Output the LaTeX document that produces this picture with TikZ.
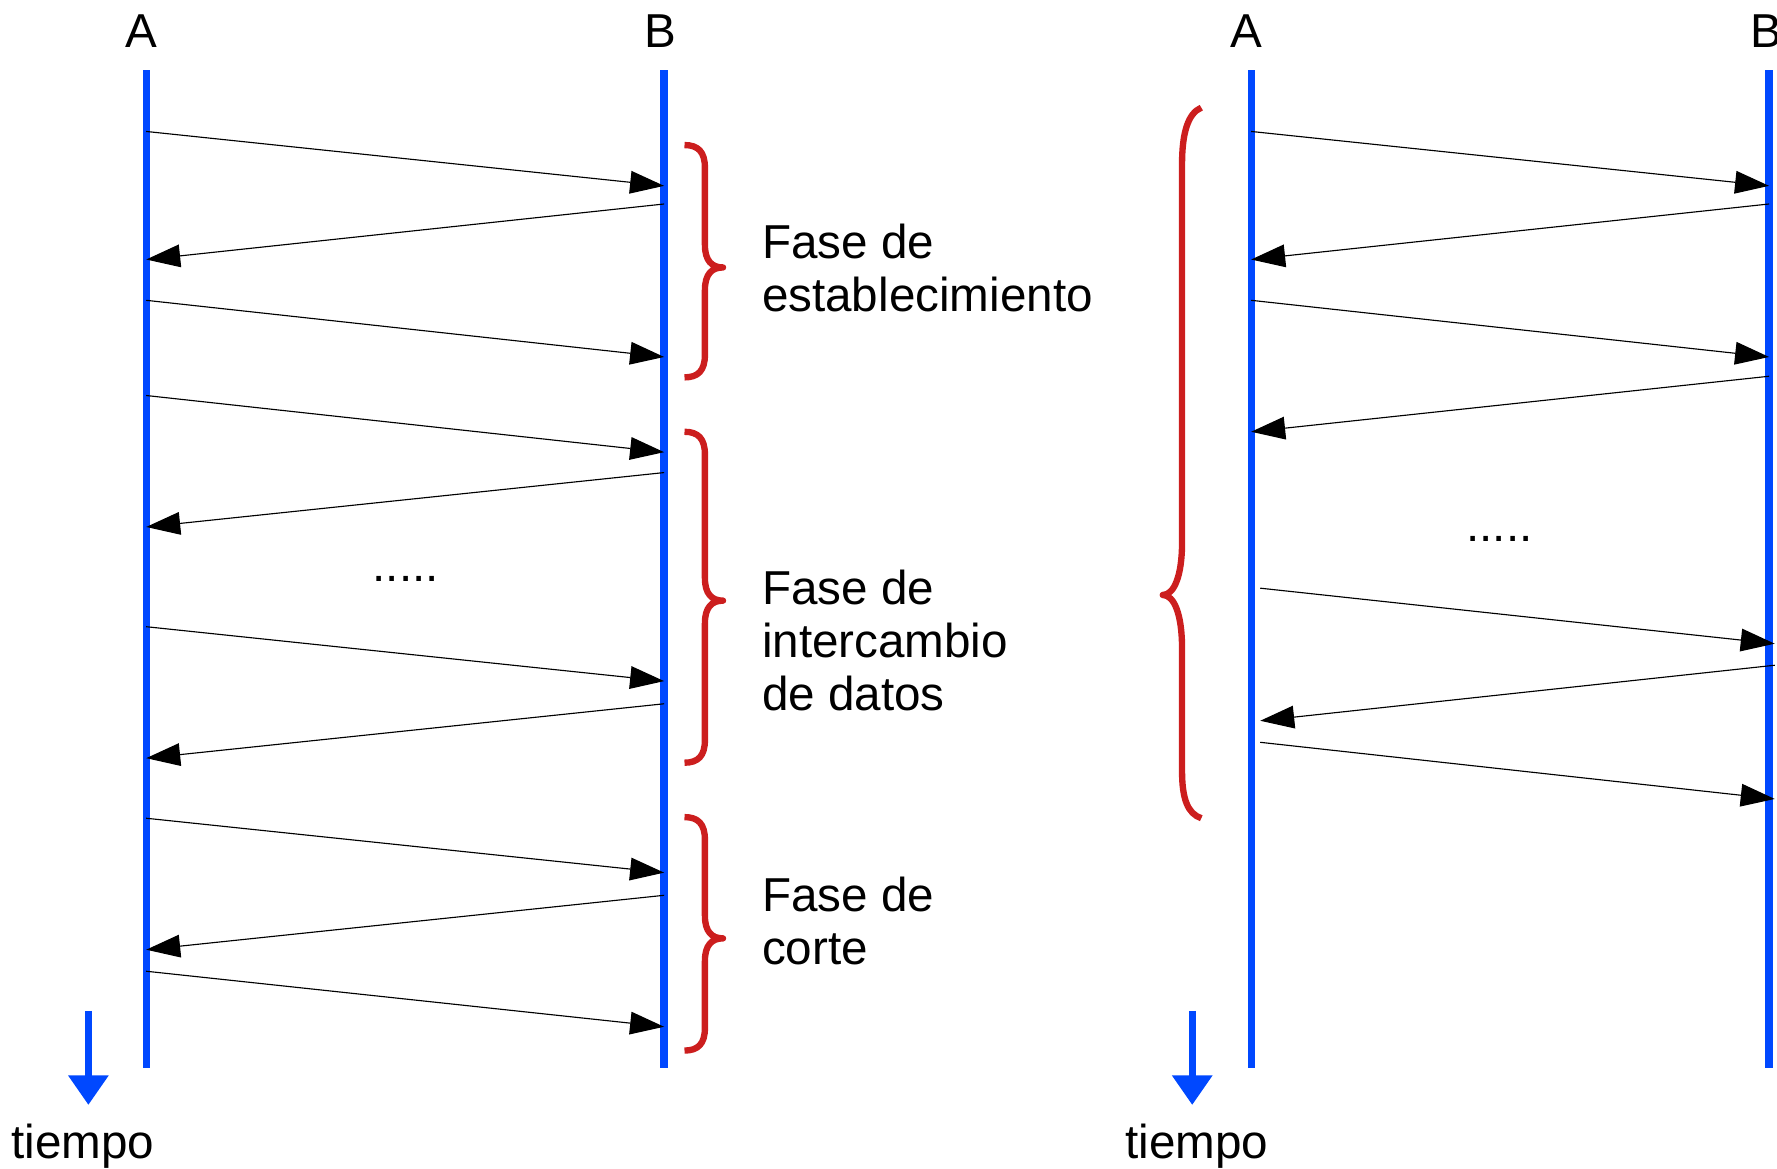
\documentclass[tikz,border=0pt]{standalone}
\usepackage{fontspec}
\setmainfont{Liberation Sans}
\usetikzlibrary{arrows.meta}
\definecolor{lblue}{RGB}{0,72,255}
\definecolor{bred}{RGB}{204,30,30}
\begin{document}
\begin{tikzpicture}[x=0.5pt,y=-0.5pt,
  lifeline/.style={draw=lblue, line width=3.2pt},
  msg/.style={draw=black, line width=0.5pt, -{Triangle[length=15pt,width=10pt]}},
  bracepath/.style={draw=bred, line width=2.8pt, line join=round},
  timearrow/.style={draw=lblue, line width=3.2pt, -{Triangle[length=13pt,width=17pt]}},
  lbl/.style={font=\fontsize{21}{23.5}\selectfont, inner sep=0pt, align=left},
]
\useasboundingbox (0,0) rectangle (1568,1031);

% ---------- left diagram ----------
\node[lbl, anchor=base] (LA) at (125,42) {A};
\node[lbl, anchor=base] (LB) at (583,42) {B};
\coordinate (lat) at (129,62);  \coordinate (lab) at (129,942);
\coordinate (lbt) at (586,62);  \coordinate (lbb) at (586,942);
\draw[lifeline] (lat) -- (lab);
\draw[lifeline] (lbt) -- (lbb);

\coordinate (a1) at (129,116); \coordinate (b1) at (586,164);
\coordinate (b2) at (586,180); \coordinate (a2) at (129,229);
\coordinate (a3) at (129,265); \coordinate (b3) at (586,315);
\coordinate (a4) at (129,349); \coordinate (b4) at (586,399);
\coordinate (b5) at (586,417); \coordinate (a5) at (129,465);
\coordinate (a6) at (129,553); \coordinate (b6) at (586,601);
\coordinate (b7) at (586,621); \coordinate (a7) at (129,669);
\coordinate (a8) at (129,722); \coordinate (b8) at (586,770);
\coordinate (b9) at (586,790); \coordinate (a9) at (129,838);
\coordinate (a10) at (129,857); \coordinate (b10) at (586,906);
\draw[msg] (a1) -- (b1);
\draw[msg] (b2) -- (a2);
\draw[msg] (a3) -- (b3);
\draw[msg] (a4) -- (b4);
\draw[msg] (b5) -- (a5);
\draw[msg] (a6) -- (b6);
\draw[msg] (b7) -- (a7);
\draw[msg] (a8) -- (b8);
\draw[msg] (b9) -- (a9);
\draw[msg] (a10) -- (b10);

\node[lbl, anchor=base] (ldots) at (358,513) {.....};

\newcommand{\phbrace}[3]{%
  \draw[bracepath] (604,#1) .. controls (616,#1) and (622,#1+6) .. (622,#1+20)
    -- (622,#2-20) .. controls (622,#2-6) and (628,#2) .. (638,#2)
    .. controls (628,#2) and (622,#2+6) .. (622,#2+20)
    -- (622,#3-20) .. controls (622,#3-6) and (616,#3) .. (604,#3);}
\phbrace{128}{236}{333}
\phbrace{381}{530}{673}
\phbrace{721}{828}{927}

\node[lbl, anchor=base west] (f1) at (672,275) {Fase de\\establecimiento};
\node[lbl, anchor=base west] (f2) at (672,627) {Fase de\\intercambio\\de datos};
\node[lbl, anchor=base west] (f3) at (672,851) {Fase de\\corte};

\coordinate (lt1) at (78,892); \coordinate (lt2) at (78,975);
\draw[timearrow] (lt1) -- (lt2);
\node[lbl, anchor=base] (ltime) at (73,1022) {tiempo};

% ---------- right diagram ----------
\node[lbl, anchor=base] (RA) at (1100,42) {A};
\node[lbl, anchor=base] (RB) at (1559,42) {B};
\coordinate (rat) at (1104,62);  \coordinate (rab) at (1104,942);
\coordinate (rbt) at (1561,62);  \coordinate (rbb) at (1561,942);
\draw[lifeline] (rat) -- (rab);
\draw[lifeline] (rbt) -- (rbb);

\coordinate (ra1) at (1104,116); \coordinate (rb1) at (1561,164);
\coordinate (rb2) at (1561,180); \coordinate (ra2) at (1104,229);
\coordinate (ra3) at (1104,265); \coordinate (rb3) at (1561,315);
\coordinate (rb4) at (1561,332); \coordinate (ra4) at (1104,381);
\coordinate (ra5) at (1112,519); \coordinate (rb5) at (1566,568);
\coordinate (rb6) at (1566,587); \coordinate (ra6) at (1112,636);
\coordinate (ra7) at (1112,655); \coordinate (rb7) at (1566,705);
\draw[msg] (ra1) -- (rb1);
\draw[msg] (rb2) -- (ra2);
\draw[msg] (ra3) -- (rb3);
\draw[msg] (rb4) -- (ra4);
\draw[msg] (ra5) -- (rb5);
\draw[msg] (rb6) -- (ra6);
\draw[msg] (ra7) -- (rb7);

\node[lbl, anchor=base] (rdots) at (1323,478) {.....};

\draw[bracepath] (1060,95) .. controls (1048,100) and (1043,118) .. (1043,145)
  -- (1043,479) .. controls (1043,508) and (1036,525) .. (1026,525)
  .. controls (1036,525) and (1043,542) .. (1043,572)
  -- (1043,680) .. controls (1043,705) and (1048,718) .. (1060,722);

\coordinate (rt1) at (1052,892); \coordinate (rt2) at (1052,975);
\draw[timearrow] (rt1) -- (rt2);
\node[lbl, anchor=base] (rtime) at (1056,1022) {tiempo};
\end{tikzpicture}
\end{document}
